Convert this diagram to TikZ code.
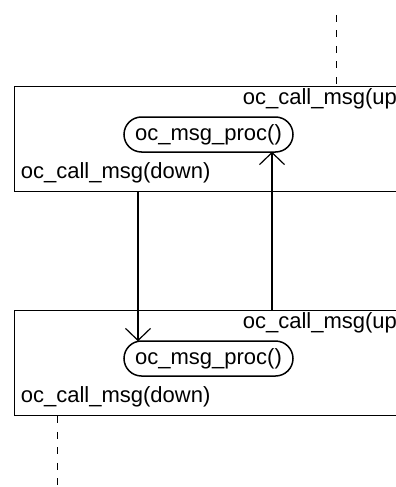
\documentclass[tikz,border=0pt]{standalone}
\usepackage{fontspec}
\setmainfont{Liberation Sans}
\usetikzlibrary{arrows.meta,shapes.misc}
\begin{document}
\begin{tikzpicture}[x=1pt,y=-1pt,
  line width=1.8pt,
  font=\fontsize{22}{26}\selectfont,
  blockbox/.style={draw, rectangle, inner sep=0pt, anchor=north west,
    minimum width=400pt, minimum height=105pt},
  procnode/.style={draw, rounded rectangle, inner sep=0pt,
    minimum width=169pt, minimum height=35pt, line width=1.5pt},
  msglabel/.style={inner sep=0pt, anchor=base west},
  lifeline/.style={dash pattern=on 7pt off 8.5pt, line width=1.8pt},
  callarrow/.style={-{Straight Barb[length=12pt,width=25pt,line width=1.2pt]}, line width=1.5pt}]
\useasboundingbox (0,0) rectangle (396,487);
\clip (0,0) rectangle (396,487);

% upper block
\node[blockbox] (tbox) at (13.5,85.5) {};
\node[procnode] (tproc) at (208.5,134.5) {oc\_msg\_proc()};
\node[msglabel] (tup) at (242,104) {oc\_call\_msg(up)};
\node[msglabel] (tdown) at (20,178) {oc\_call\_msg(down)};

% lower block
\node[blockbox] (bbox) at (13.5,309.5) {};
\node[procnode] (bproc) at (208.5,358.5) {oc\_msg\_proc()};
\node[msglabel] (bup) at (242,328) {oc\_call\_msg(up)};
\node[msglabel] (bdown) at (20,402) {oc\_call\_msg(down)};

% positions of the vertical links
\coordinate (lifeTop) at (336.5,15);
\coordinate (lifeBot) at (57.5,487);
\coordinate (downX) at (138,0);
\coordinate (upX) at (272,0);

% dashed lifelines
\draw[lifeline] (lifeTop) -- (tbox.north -| lifeTop);
\draw[lifeline] (bbox.south -| lifeBot) -- (lifeBot);

% calls between the blocks
\draw[callarrow] (tbox.south -| downX) -- ([yshift=-1pt]bproc.north -| downX);
\draw[callarrow] (bbox.north -| upX) -- ([yshift=1pt]tproc.south -| upX);
\end{tikzpicture}
\end{document}
